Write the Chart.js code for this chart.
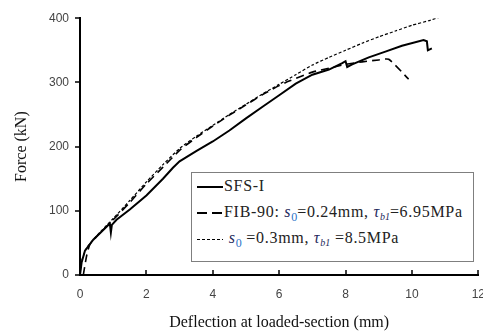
<!DOCTYPE html>
<html>
<head>
<meta charset="utf-8">
<script src="https://cdn.jsdelivr.net/npm/chart.js@4/dist/chart.umd.min.js"></script>
<style>
  body { margin: 0; background: #fff; }
  #wrap { position: relative; width: 483px; height: 336px; overflow: hidden; }
  #legend {
    position: absolute; left: 191px; top: 172px; width: 283px; height: 90px;
    border: 1px solid #7f7f7f; background: #fff; box-sizing: border-box;
    font-family: "Liberation Serif", "Times New Roman", serif; font-size: 16px; color: #222;
  }
  #legend .row { position: absolute; left: 5px; height: 20px; line-height: 20px; white-space: nowrap; letter-spacing: 0.7px; }
  #legend .sw { display: inline-block; width: 26px; vertical-align: middle; margin-right: 1px; }
  .sym { font-style: italic; color: #1f2a5c; }
  .sub0 { color: #2e74c9; font-size: 12px; vertical-align: -4px; letter-spacing: 0; }
  .subb { color: #1f2a5c; font-size: 10px; vertical-align: -3px; font-style: italic; letter-spacing: 0; }
</style>
</head>
<body>
<div id="wrap">
  <canvas id="chart" width="497" height="336"></canvas>
  <div id="legend">
    <div class="row" style="top:3px"><span class="sw" style="height:2px;background:#000"></span>SFS-I</div>
    <div class="row" style="top:29px"><span class="sw" style="height:2px;background:repeating-linear-gradient(90deg,#000 0 10px,transparent 10px 15px)"></span>FIB-90: <span class="sym">s</span><span class="sub0">0</span>=0.24mm, <span class="sym">τ</span><span class="subb">b1</span>=6.95MPa</div>
    <div class="row" style="top:55px"><span class="sw" style="height:1px;background:repeating-linear-gradient(90deg,#000 0 3px,transparent 3px 5px)"></span> <span class="sym">s</span><span class="sub0">0</span> =0.3mm, <span class="sym">τ</span><span class="subb">b1</span> =8.5MPa</div>
  </div>
</div>
<script>
// Test curve SFS-I
const sfsX = [0, 0.05, 0.15, 0.4, 0.7, 0.9, 0.93, 0.96, 1.1, 1.5, 2.0, 2.5, 2.8, 3.0, 3.5, 4.0, 4.5, 5.0, 5.5, 6.0, 6.5, 7.0, 7.5, 7.9, 8.0, 8.05, 8.2, 8.7, 9.2, 9.7, 10.35, 10.45, 10.48, 10.6];
const sfsY = [0, 20, 38, 55, 70, 80, 66, 78, 86, 102, 124, 150, 167, 177, 193, 208, 225, 244, 262, 280, 298, 312, 320, 330, 333, 324, 328, 339, 348, 357, 366, 364, 350, 353];

// FIB-90 model
const fibX = [0.1, 0.2, 0.3, 0.5, 1.0, 1.5, 2.0, 2.5, 3.0, 3.5, 4.0, 4.5, 5.0, 5.5, 6.0, 6.3, 7.0, 7.5, 8.0, 8.5, 9.0, 9.3, 9.9];
const fibY = [0, 30, 48, 60, 86, 113, 142, 168, 194, 214, 232, 249, 265, 281, 295, 302, 316, 322, 328, 332, 335, 336, 305];

// s0 = 0.3mm, tau_b1 = 8.5MPa
const modX = [0, 0.05, 0.2, 0.5, 1.0, 1.5, 2.0, 2.5, 3.0, 3.5, 4.0, 4.5, 5.0, 5.5, 6.0, 6.5, 7.0, 7.5, 8.0, 8.5, 9.0, 9.5, 10.0, 10.5, 10.8];
const modY = [0, 22, 42, 61, 88, 116, 145, 172, 197, 216, 233, 250, 266, 282, 297, 312, 327, 339, 350, 361, 371, 380, 389, 396, 401];

const xTicks = [0, 2, 4, 6, 8, 10, 12];
const yTicks = [0, 100, 200, 300, 400];

function pts(xs, ys) {
    return xs.map((x, i) => ({ x: x, y: ys[i] }));
}

// x-axis ticks point into the plot, y-axis ticks point outward
const tickMarks = {
    id: 'tickMarks',
    afterDraw(chart) {
        const ctx = chart.ctx;
        const xs = chart.scales.x, ys = chart.scales.y;
        ctx.save();
        ctx.strokeStyle = '#000';
        ctx.lineWidth = 1.5;
        xTicks.forEach(v => {
            const px = Math.round(xs.getPixelForValue(v));
            ctx.beginPath();
            ctx.moveTo(px, ys.bottom);
            ctx.lineTo(px, ys.bottom - 5);
            ctx.stroke();
        });
        yTicks.forEach(v => {
            const py = Math.round(ys.getPixelForValue(v));
            ctx.beginPath();
            ctx.moveTo(xs.left, py);
            ctx.lineTo(xs.left - 5, py);
            ctx.stroke();
        });
        ctx.restore();
    }
};

new Chart(document.getElementById('chart'), {
    type: 'scatter',
    data: {
        datasets: [
            { label: 'SFS-I', data: pts(sfsX, sfsY), showLine: true, borderColor: '#000', borderWidth: 2, pointRadius: 0, tension: 0 },
            { label: 'FIB-90', data: pts(fibX, fibY), showLine: true, borderColor: '#000', borderWidth: 1.6, borderDash: [8, 5], pointRadius: 0, tension: 0.2 },
            { label: 's0=0.3mm', data: pts(modX, modY), showLine: true, borderColor: '#000', borderWidth: 1.2, borderDash: [3, 2], pointRadius: 0, tension: 0.2 }
        ]
    },
    options: {
        responsive: false,
        animation: false,
        layout: { padding: { left: 8, right: 0, top: 10, bottom: 0 } },
        plugins: { legend: { display: false }, tooltip: { enabled: false } },
        scales: {
            x: {
                type: 'linear', min: 0, max: 12,
                afterBuildTicks: s => { s.ticks = xTicks.map(v => ({ value: v })); },
                afterFit: s => { s.height = 61; },
                grid: { display: false, drawTicks: false },
                border: { display: true, color: '#000', width: 2 },
                ticks: { color: '#444', padding: 12, font: { family: 'Liberation Sans', size: 12 } },
                title: { display: true, text: 'Deflection at loaded-section (mm)', color: '#111', padding: { top: 14 },
                         font: { family: 'Liberation Serif', size: 16 } }
            },
            y: {
                type: 'linear', min: 0, max: 400,
                afterBuildTicks: s => { s.ticks = yTicks.map(v => ({ value: v })); },
                afterFit: s => { s.width = 72; },
                grid: { display: false, drawTicks: false },
                border: { display: true, color: '#000', width: 2 },
                ticks: { color: '#444', padding: 11, font: { family: 'Liberation Sans', size: 12 } },
                title: { display: true, text: 'Force (kN)', color: '#111', padding: { bottom: 4 },
                         font: { family: 'Liberation Serif', size: 16 } }
            }
        }
    },
    plugins: [tickMarks]
});
</script>
</body>
</html>
